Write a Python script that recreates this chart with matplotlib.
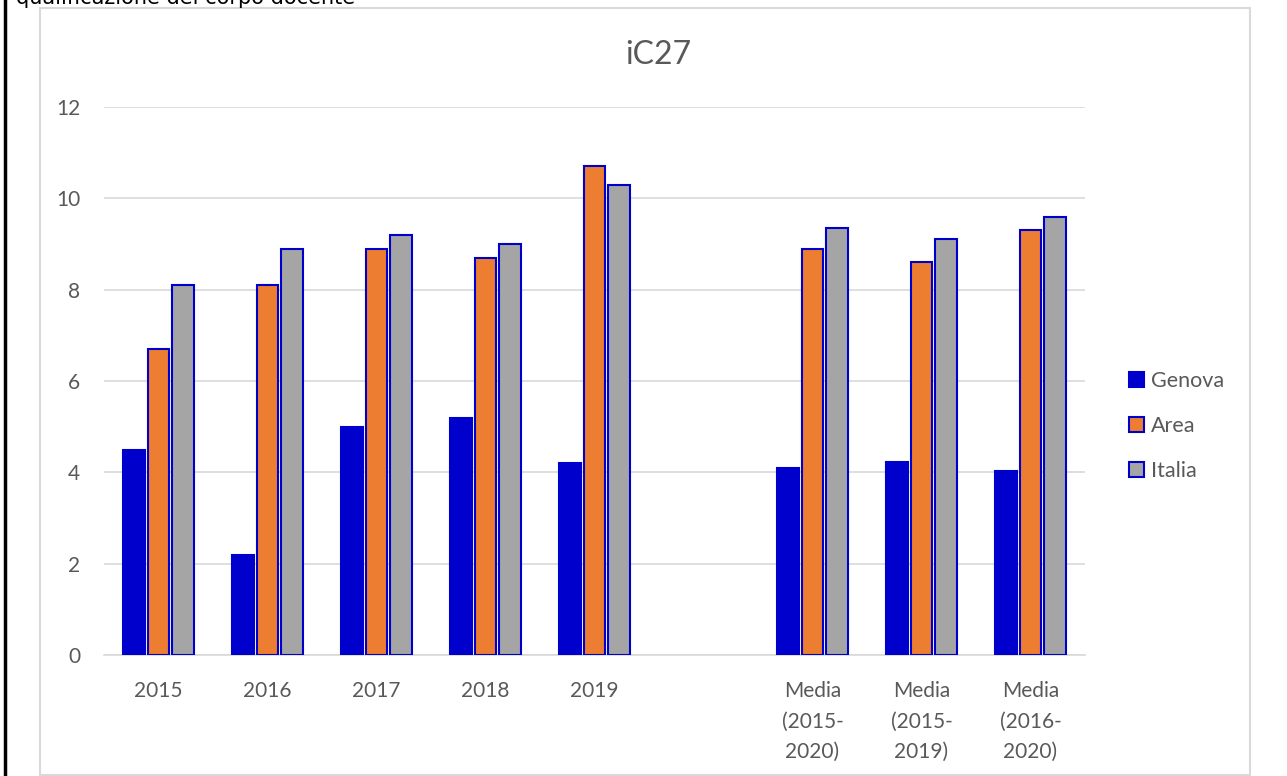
import matplotlib
matplotlib.use("Agg")
import numpy as np
import matplotlib.pyplot as plt
from matplotlib.lines import Line2D
from matplotlib.patches import Rectangle

categories = ["2015", "2016", "2017", "2018", "2019", "",
              "Media\n(2015-\n2020)", "Media\n(2015-\n2019)", "Media\n(2016-\n2020)"]
genova = [4.5, 2.2, 5.0, 5.2, 4.2, np.nan, 4.1, 4.23, 4.02]
area = [6.7, 8.1, 8.9, 8.7, 10.7, np.nan, 8.88, 8.61, 9.31]
italia = [8.1, 8.9, 9.2, 9.0, 10.3, np.nan, 9.35, 9.1, 9.6]
series = ["Genova", "Area", "Italia"]
colors = ["#0000CC", "#ED7D31", "#A5A5A5"]
edge = "#0000CC"
grid_c = "#D9D9D9"
text_c = "#595959"

plt.rcParams["font.family"] = ["Lato", "DejaVu Sans"]

W, H = 1287, 776
fig = plt.figure(figsize=(W / 100, H / 100), dpi=100)

# outer chart frame and the clipped text above it
fig.add_artist(Rectangle((40 / W, 1 - 775 / H), 1210 / W, 767 / H,
                         transform=fig.transFigure, fill=False,
                         edgecolor=grid_c, linewidth=1.5))
fig.add_artist(Line2D([4.5 / W, 4.5 / W], [0, 1], transform=fig.transFigure,
                      color="black", linewidth=2.5))
fig.text(16 / W, 1 - 4 / H, "qualificazione del corpo docente",
         fontsize=15, family="DejaVu Sans", color="black", va="baseline")

ax = fig.add_axes([104 / W, (H - 655) / H, (1085 - 104) / W, (655 - 107) / H])
x = np.arange(len(categories))
bw = 0.2
off = 0.225
for i, (vals, name) in enumerate(zip([genova, area, italia], series)):
    ax.bar(x + (i - 1) * off, vals, width=bw, color=colors[i],
           edgecolor=edge, linewidth=1.5, label=name, zorder=3)

ax.set_xlim(-0.5, len(categories) - 0.5)
ax.set_ylim(0, 12)
ax.set_yticks(range(0, 13, 2))
ax.set_xticks(x)
ax.set_xticklabels(categories, linespacing=1.65)
ax.tick_params(axis="both", length=0, labelsize=15, labelcolor=text_c)
ax.tick_params(axis="y", pad=17)
ax.tick_params(axis="x", pad=19)
ax.grid(axis="y", color=grid_c, linewidth=1.2, zorder=0)
for s in ["top", "right", "left"]:
    ax.spines[s].set_visible(False)
ax.spines["bottom"].set_color(grid_c)
ax.spines["bottom"].set_linewidth(1.2)

fig.text(658 / W, 1 - 55 / H, "iC27", fontsize=23, color=text_c,
         ha="center", va="center")

leg = fig.legend(loc="center left", bbox_to_anchor=(1110 / W, 1 - 426 / H),
                 frameon=False, fontsize=15.5, labelspacing=1.15,
                 handlelength=0.7, handleheight=0.7, handletextpad=0.3)
for t in leg.get_texts():
    t.set_color(text_c)

fig.savefig("out.png", dpi=100)
